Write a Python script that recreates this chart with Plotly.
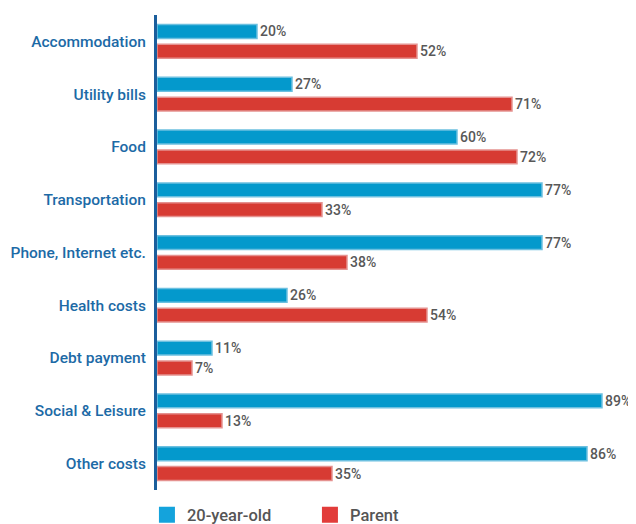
import plotly.graph_objects as go

categories = ["Accommodation", "Utility bills", "Food", "Transportation",
              "Phone, Internet etc.", "Health costs", "Debt payment",
              "Social & Leisure", "Other costs"]
young = [20, 27, 60, 77, 77, 26, 11, 89, 86]
parent = [52, 71, 72, 33, 38, 54, 7, 13, 35]
series_names = ["20-year-old", "Parent"]

blue_fill = "#0499cc"
blue_line = "#6cc0e0"
red_fill = "#d73b33"
red_line = "#e59290"

fig = go.Figure()
for name, vals, fill, line in [(series_names[0], young, blue_fill, blue_line),
                               (series_names[1], parent, red_fill, red_line)]:
    fig.add_trace(go.Bar(
        y=categories, x=vals, orientation="h", name=name,
        marker=dict(color=fill, line=dict(color=line, width=1.5)),
        text=[f"{v}%" for v in vals], textposition="outside",
        constraintext="none",
        textfont=dict(family="Roboto", size=14, color="#585858", weight=500),
        cliponaxis=False, showlegend=False,
    ))

# legend entries with larger square swatches
for name, col in [(series_names[0], "#14a3dc"), (series_names[1], "#e23c3a")]:
    fig.add_trace(go.Scatter(
        x=[None], y=[None], mode="markers", name=name,
        marker=dict(symbol="square", size=16, color=col),
    ))

# page body adds an 8px offset; figure sized to fill the remaining window
fig.update_layout(
    width=628, height=516,
    margin=dict(l=149, r=0, t=7, b=34, autoexpand=False),
    barmode="group", bargap=0.25, bargroupgap=0.3,
    plot_bgcolor="white", paper_bgcolor="white",
    font=dict(family="Roboto", color="#585858"),
    xaxis=dict(range=[0, 95.8], visible=False, fixedrange=True, automargin=False),
    yaxis=dict(autorange="reversed", showline=True, linecolor="#1b5e9c",
               linewidth=3, ticks="", showgrid=False, ticklabelstandoff=5,
               automargin=False,
               tickfont=dict(family="Roboto", size=15.5, color="#1c6aa6", weight=500)),
    legend=dict(orientation="h", x=-0.021, xanchor="left", y=-0.016, yanchor="top",
                font=dict(family="Roboto", size=16.5, color="#555555", weight=500),
                itemwidth=30, tracegroupgap=0, entrywidthmode="pixels", entrywidth=118),
)

fig.write_html("out.html")
